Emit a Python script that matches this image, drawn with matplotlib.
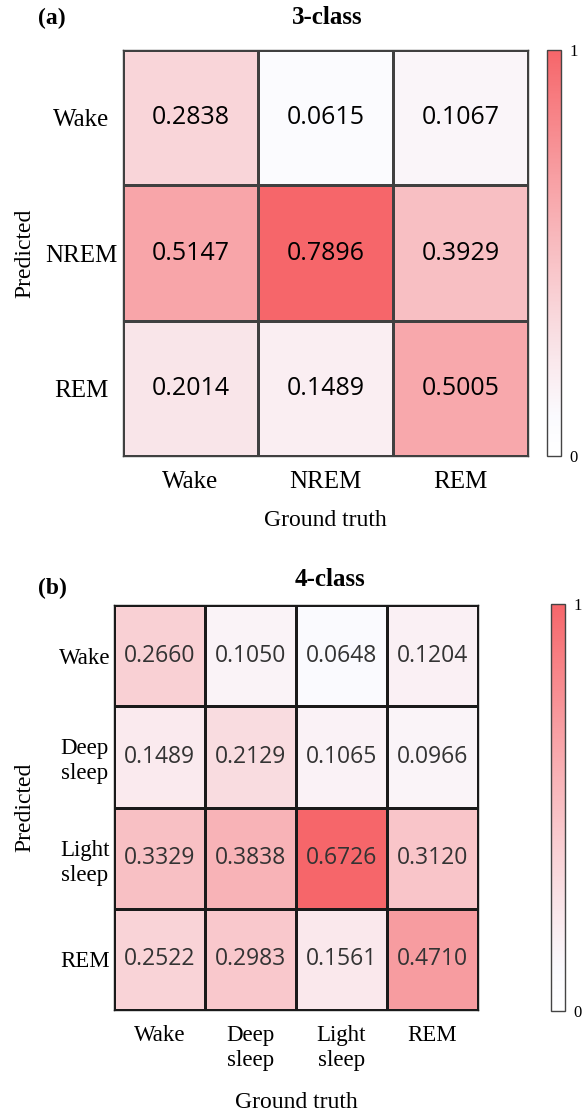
import numpy as np
import matplotlib
matplotlib.use("Agg")
import matplotlib.pyplot as plt
from matplotlib.colors import LinearSegmentedColormap

# data
labels3 = ["Wake", "NREM", "REM"]
cm3 = [[0.2838, 0.0615, 0.1067],
       [0.5147, 0.7896, 0.3929],
       [0.2014, 0.1489, 0.5005]]

labels4 = ["Wake", "Deep\nsleep", "Light\nsleep", "REM"]
cm4 = [[0.2660, 0.1050, 0.0648, 0.1204],
       [0.1489, 0.2129, 0.1065, 0.0966],
       [0.3329, 0.3838, 0.6726, 0.3120],
       [0.2522, 0.2983, 0.1561, 0.4710]]

serif = "Liberation Serif"
sans = "Open Sans"

cmap = LinearSegmentedColormap.from_list(
    "wr", [(0.0, "#ffffff"), (0.06, "#fafafe"), (1.0, "#f6666a")], gamma=1.2)

W, H = 582, 1113
fig = plt.figure(figsize=(W / 100, H / 100), dpi=100)


def box(l, t, r, b):
    return [l / W, 1 - b / H, (r - l) / W, (b - t) / H]


def panel(ax, cax, data, labels, numsize, numcolor, gridcolor, ticksize,
          ypad, lpad, ylx):
    data = np.array(data)
    n = len(labels)
    vmax = data.max()
    mesh = ax.pcolormesh(data, cmap=cmap, vmin=0, vmax=vmax,
                         edgecolors=gridcolor, linewidth=0.9)
    ax.set_xlim(0, n)
    ax.set_ylim(n, 0)
    for i in range(n):
        for j in range(n):
            ax.text(j + 0.5, i + 0.5, "%.4f" % data[i, j], ha="center",
                    va="center", fontsize=numsize, color=numcolor,
                    family=sans)
    ax.set_xticks(np.arange(n) + 0.5)
    ax.set_yticks(np.arange(n) + 0.5)
    ax.set_xticklabels(labels, family=serif, fontsize=ticksize, linespacing=1.25)
    ax.set_yticklabels(labels, family=serif, fontsize=ticksize, ha="center",
                       linespacing=1.25)
    ax.tick_params(axis="x", length=0, pad=11)
    ax.tick_params(axis="y", length=0, pad=ypad)
    for s in ax.spines.values():
        s.set_color(gridcolor)
        s.set_linewidth(1.0)
    ax.set_ylabel("Predicted", family=serif, fontsize=17)
    ax.yaxis.set_label_coords(ylx, 0.5)
    ax.set_xlabel("Ground truth", family=serif, fontsize=17, labelpad=lpad)

    cb = fig.colorbar(mesh, cax=cax, ticks=[0, vmax])
    cb.ax.set_yticklabels(["0", "1"], family=serif, fontsize=12)
    cb.ax.tick_params(length=0, pad=6)
    cb.outline.set_edgecolor("#444444")
    cb.outline.set_linewidth(1.0)


ax1 = fig.add_axes(box(123, 50, 528, 456))
cax1 = fig.add_axes(box(547, 50, 561, 456))
panel(ax1, cax1, cm3, labels3, 18, "black", "#404040", 18, 30, 12, -0.217)

ax2 = fig.add_axes(box(114, 605, 478, 1010))
cax2 = fig.add_axes(box(551, 604, 565, 1011))
panel(ax2, cax2, cm4, labels4, 16.5, "#333333", "#1a1a1a", 16.5, 21, 15, -0.217)

fig.text(327 / W, 1 - 18 / H, "3-class", ha="center", va="center",
         family=serif, fontsize=18, fontweight="bold")
fig.text(52 / W, 1 - 18 / H, "(a)", ha="center", va="center",
         family=serif, fontsize=17, fontweight="bold")
fig.text(330 / W, 1 - 580 / H, "4-class", ha="center", va="center",
         family=serif, fontsize=18, fontweight="bold")
fig.text(52 / W, 1 - 588 / H, "(b)", ha="center", va="center",
         family=serif, fontsize=17, fontweight="bold")

fig.savefig("out.png", dpi=100)
